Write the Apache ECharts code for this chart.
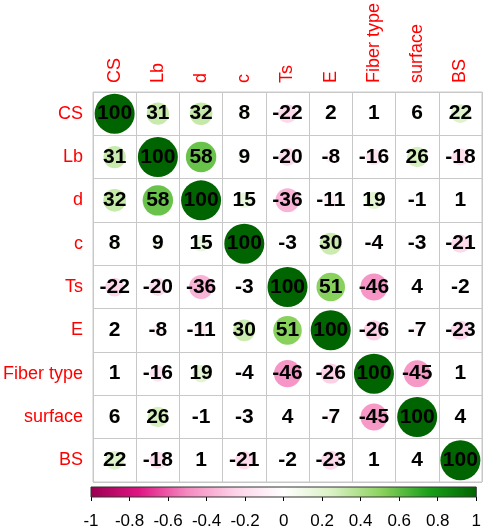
<!DOCTYPE html>
<html style="height: 100%">
<head>
<meta charset="utf-8">
<script src="https://cdn.jsdelivr.net/npm/echarts@6/dist/echarts.min.js"></script>
</head>
<body style="height: 100%; margin: 0; background: #fff">
<div id="container" style="width: 484px; height: 530px"></div>
<script type="text/javascript">
// variable names, rows top to bottom / columns left to right
var vars = ['CS', 'Lb', 'd', 'c', 'Ts', 'E', 'Fiber type', 'surface', 'BS'];
// correlation x100 as printed in the cells
var corr = [
    [100, 31, 32, 8, -22, 2, 1, 6, 22],
    [31, 100, 58, 9, -20, -8, -16, 26, -18],
    [32, 58, 100, 15, -36, -11, 19, -1, 1],
    [8, 9, 15, 100, -3, 30, -4, -3, -21],
    [-22, -20, -36, -3, 100, 51, -46, 4, -2],
    [2, -8, -11, 30, 51, 100, -26, -7, -23],
    [1, -16, 19, -4, -46, -26, 100, -45, 1],
    [6, 26, -1, -3, 4, -7, -45, 100, 4],
    [22, -18, 1, -21, -2, -23, 1, 4, 100]
];
var palette = ['#990050', '#e01484', '#f48abf', '#fdd3e8', '#ffffff', '#daf1c4', '#8ed360', '#1aa01a', '#006400'];
var barRange = [-1, 1];

var cells = [];
for (var i = 0; i < vars.length; i++) {
    for (var j = 0; j < vars.length; j++) {
        cells.push([j, i, corr[i][j]]);
    }
}

var chart = echarts.init(document.getElementById('container'));

function renderBar(params, api) {
    var p0 = api.coord([api.value(0), 1]);
    var p1 = api.coord([api.value(1), 0]);
    var stops = palette.map(function (c, k) {
        return { offset: k / (palette.length - 1), color: c };
    });
    return {
        type: 'rect',
        shape: { x: p0[0], y: p0[1], width: p1[0] - p0[0], height: p1[1] - p0[1] },
        style: {
            fill: new echarts.graphic.LinearGradient(0, 0, 1, 0, stops),
            stroke: '#333',
            lineWidth: 1
        }
    };
}

var option = {
    animation: false,
    textStyle: { fontFamily: 'Liberation Sans' },
    grid: [
        { left: 91, top: 92, width: 391, height: 390, show: true, borderColor: '#c8c8c8', borderWidth: 1 },
        { left: 91, top: 487, width: 391, height: 14 }
    ],
    xAxis: [{
        type: 'category',
        data: vars,
        position: 'top',
        gridIndex: 0,
        axisLine: { show: false },
        axisTick: { show: false },
        axisLabel: { interval: 0, rotate: -90, color: '#ff0000', fontSize: 18, margin: 9 },
        splitLine: { show: true, interval: 0, lineStyle: { color: '#c8c8c8', width: 1 } }
    }, {
        type: 'value',
        gridIndex: 1,
        min: -1,
        max: 1,
        interval: 0.2,
        position: 'bottom',
        axisLine: { show: false },
        axisTick: { show: true, length: 4, lineStyle: { color: '#000' } },
        axisLabel: {
            color: '#000', fontSize: 17, margin: 16,
            formatter: function (v) { return String(Number(v.toFixed(1))); }
        },
        splitLine: { show: false }
    }],
    yAxis: [{
        type: 'category',
        data: vars,
        inverse: true,
        gridIndex: 0,
        axisLine: { show: false },
        axisTick: { show: false },
        axisLabel: { interval: 0, color: '#ff0000', fontSize: 18, margin: 10 },
        splitLine: { show: true, interval: 0, lineStyle: { color: '#c8c8c8', width: 1 } }
    }, {
        type: 'value',
        gridIndex: 1,
        min: 0,
        max: 1,
        show: false
    }],
    visualMap: {
        type: 'continuous',
        show: false,
        min: -100,
        max: 100,
        dimension: 2,
        seriesIndex: 0,
        inRange: { color: palette }
    },
    series: [{
        type: 'scatter',
        xAxisIndex: 0,
        yAxisIndex: 0,
        data: cells,
        symbol: 'circle',
        symbolSize: function (v) { return 40 * Math.sqrt(Math.abs(v[2]) / 100); },
        itemStyle: { opacity: 1 },
        label: {
            show: true,
            position: 'inside',
            color: '#000',
            fontSize: 21,
            fontWeight: 'bold',
            formatter: function (p) { return String(p.value[2]); }
        }
    }, {
        type: 'custom',
        xAxisIndex: 1,
        yAxisIndex: 1,
        renderItem: renderBar,
        data: [barRange],
        silent: true
    }]
};
chart.setOption(option);
</script>
</body>
</html>
